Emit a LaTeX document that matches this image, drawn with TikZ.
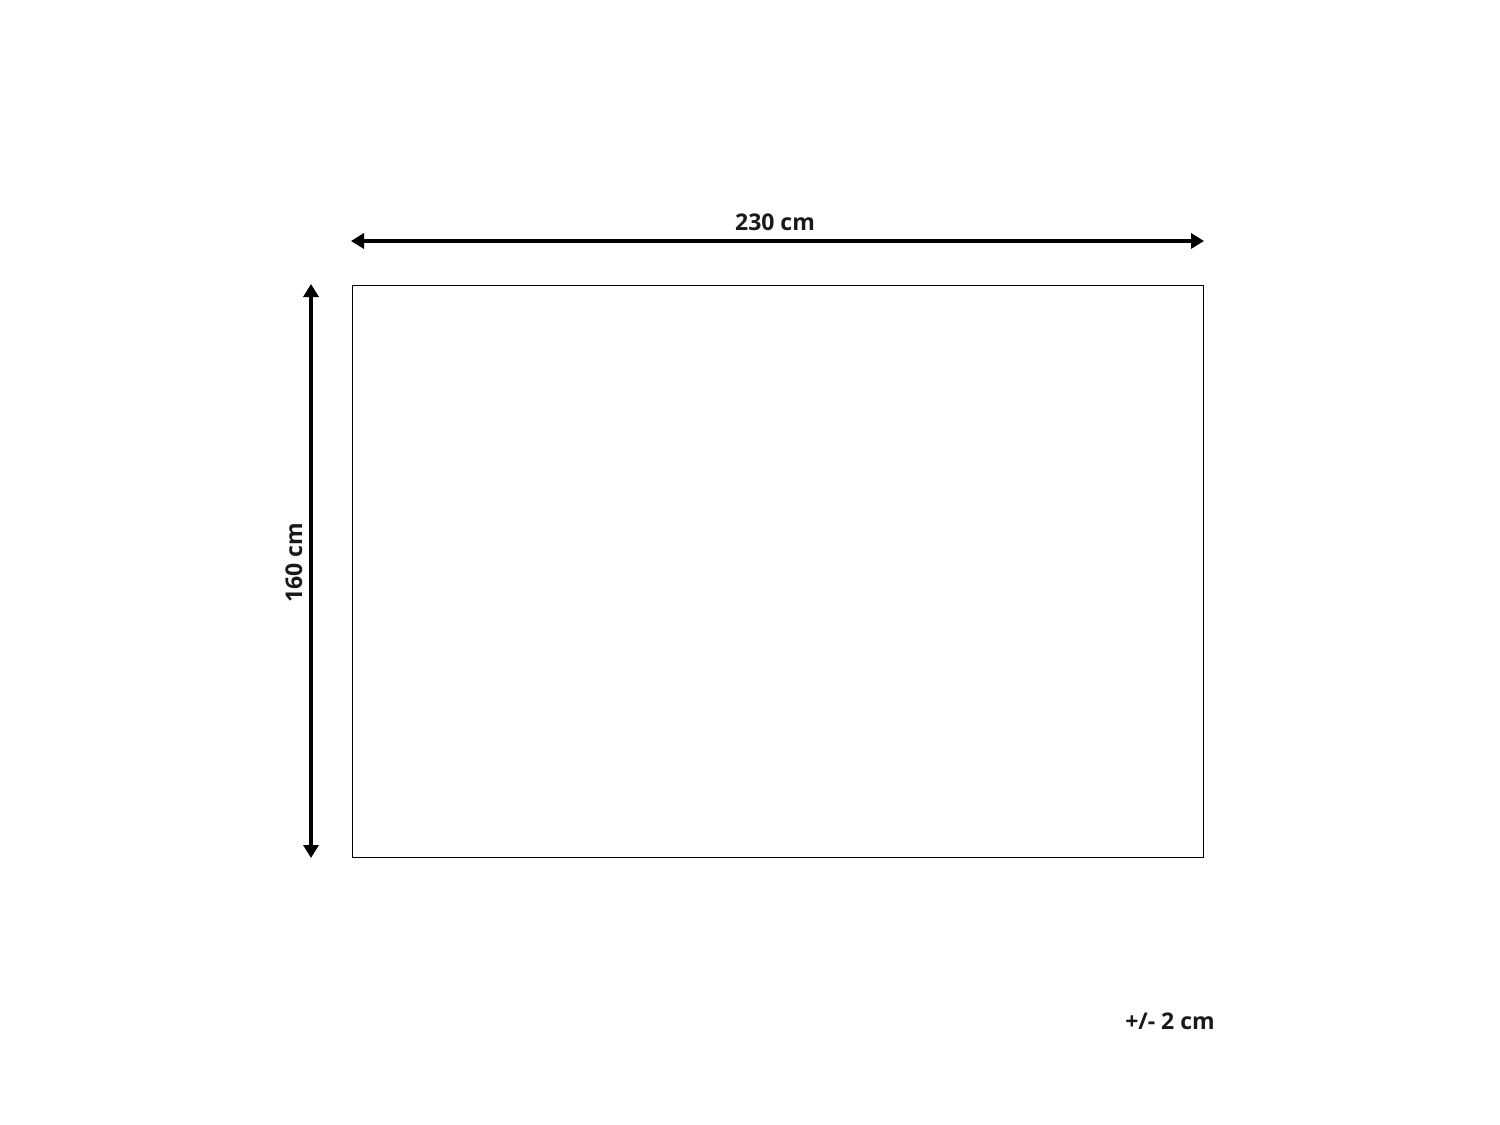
\documentclass[tikz,border=0pt]{standalone}
\usepackage{fontspec}
\setmainfont{Open Sans}
\usetikzlibrary{arrows.meta}
\tikzset{
  dimline/.style={line width=3.6pt, {Triangle[length=13pt,width=15pt]}-{Triangle[length=13pt,width=15pt]}, shorten <=-1pt, shorten >=-1pt},
  dimlabel/.style={font=\fontsize{23}{28}\selectfont\bfseries, inner sep=0pt, text=black!90},
  rugbox/.style={draw, line width=1pt}
}
\begin{document}
\begin{tikzpicture}[x=1pt,y=-1pt]
\useasboundingbox (0,0) rectangle (1500,1125);
\draw[rugbox] (352,285) rectangle (1203,857);
\coordinate (hL) at (352,241);
\coordinate (hR) at (1203,241);
\coordinate (vT) at (311,285);
\coordinate (vB) at (311,857);
\draw[dimline] (hL) -- (hR);
\draw[dimline] (vT) -- (vB);
\node[dimlabel] (w) at (775,222) {230 cm};
\node[dimlabel, rotate=90] (h) at (294,563) {160 cm};
\node[dimlabel] (tol) at (1170,1021) {+/- 2 cm};
\end{tikzpicture}
\end{document}
